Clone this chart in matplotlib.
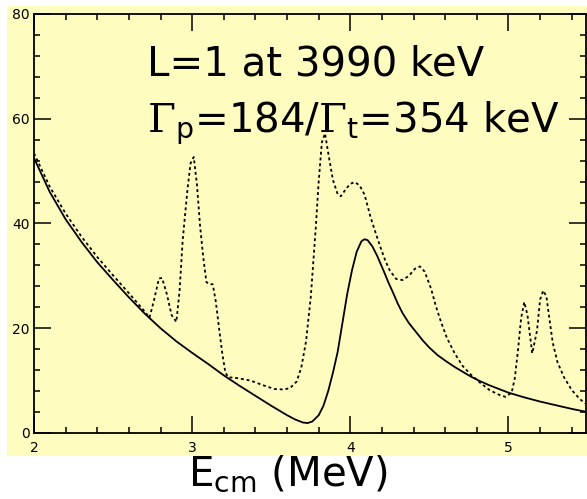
import matplotlib
matplotlib.use("Agg")
import matplotlib.pyplot as plt
from matplotlib.patches import Rectangle
from matplotlib.ticker import MultipleLocator

# calculated cross section, L=1 resonance only
solid_x = [2.0, 2.1, 2.2, 2.3, 2.4, 2.5, 2.6, 2.7, 2.8, 2.9, 3.0, 3.1, 3.2, 3.3, 3.4,
           3.5, 3.55, 3.6, 3.65, 3.7, 3.73, 3.76, 3.8, 3.83, 3.86, 3.89, 3.92, 3.95,
           3.98, 4.01, 4.04, 4.07, 4.09, 4.11, 4.14, 4.17, 4.21, 4.24, 4.27, 4.3, 4.33,
           4.37, 4.42, 4.46, 4.5, 4.55, 4.61, 4.66, 4.71, 4.76, 4.82, 4.88, 4.94, 5.0,
           5.1, 5.2, 5.3, 5.4, 5.5]
solid_y = [52.5, 46.0, 40.8, 36.5, 32.6, 29.2, 25.9, 22.8, 20.0, 17.5, 15.3, 13.2, 11.0,
           9.0, 7.1, 5.2, 4.3, 3.4, 2.6, 2.0, 1.9, 2.2, 3.4, 5.2, 8.0, 11.5, 15.5, 21.0,
           26.5, 31.0, 34.6, 36.6, 37.0, 36.8, 35.6, 33.8, 31.0, 28.8, 26.8, 24.7, 22.9,
           21.0, 19.1, 17.6, 16.3, 14.9, 13.6, 12.6, 11.7, 10.8, 9.9, 9.1, 8.4, 7.7,
           6.8, 6.0, 5.3, 4.6, 4.0]

# measured excitation function
dotted_x = [2.0, 2.1, 2.2, 2.3, 2.4, 2.5, 2.6, 2.7, 2.73, 2.76, 2.79, 2.81, 2.84, 2.87,
            2.9, 2.92, 2.94, 2.97, 2.99, 3.01, 3.03, 3.05, 3.07, 3.09, 3.11, 3.13, 3.15,
            3.17, 3.19, 3.21, 3.23, 3.26, 3.3, 3.37, 3.45, 3.52, 3.58, 3.62, 3.66, 3.69,
            3.72, 3.75, 3.78, 3.8, 3.82, 3.84, 3.86, 3.89, 3.92, 3.94, 3.97, 4.0, 4.03,
            4.06, 4.09, 4.13, 4.16, 4.19, 4.22, 4.25, 4.29, 4.33, 4.37, 4.41, 4.44, 4.47,
            4.51, 4.54, 4.57, 4.61, 4.66, 4.71, 4.76, 4.82, 4.88, 4.94, 4.98, 5.02, 5.04,
            5.06, 5.08, 5.1, 5.12, 5.15, 5.18, 5.2, 5.22, 5.24, 5.26, 5.28, 5.31, 5.35,
            5.4, 5.45, 5.5]
dotted_y = [53.4, 47.0, 41.9, 37.5, 33.6, 30.1, 26.7, 23.2, 22.0, 25.5, 29.5, 29.6, 26.5,
            22.5, 21.2, 27.0, 36.8, 46.4, 51.5, 52.7, 47.5, 39.5, 33.6, 28.8, 28.4, 28.4,
            25.0, 20.0, 15.3, 11.5, 10.6, 10.6, 10.4, 10.0, 9.1, 8.4, 8.3, 8.6, 9.8, 12.5,
            17.5, 26.0, 38.5, 48.0, 55.5, 57.2, 53.5, 48.3, 45.6, 45.2, 46.5, 47.6, 47.9,
            47.2, 45.5, 41.0, 38.2, 35.5, 33.0, 31.0, 29.4, 29.2, 30.0, 31.4, 31.8, 30.8,
            27.6, 24.3, 21.5, 18.2, 15.2, 12.8, 11.2, 9.6, 8.2, 7.3, 6.9, 7.7, 10.5, 15.8,
            22.0, 25.0, 22.5, 15.2, 19.5, 25.5, 27.2, 26.0, 21.5, 17.2, 13.5, 10.7, 8.2,
            6.5, 5.3]

xticks = [2, 3, 4, 5]
yticks = [0, 20, 40, 60, 80]

plt.rcParams['mathtext.fontset'] = 'custom'
plt.rcParams['mathtext.rm'] = 'DejaVu Serif'
plt.rcParams['mathtext.sf'] = 'DejaVu Sans'

W, H = 587, 499
fig = plt.figure(figsize=(W / 100, H / 100), dpi=100, facecolor='white')
yellow = '#fffcbf'
fig.patches.append(Rectangle((7 / W, 1 - 456 / H), (W - 7) / W, 450 / H,
                             transform=fig.transFigure, facecolor=yellow,
                             edgecolor='none', zorder=-5))

ax = fig.add_axes([34 / W, 1 - 433 / H, 552 / W, 419 / H])
ax.set_zorder(1)
ax.set_facecolor(yellow)
ax.plot(solid_x, solid_y, color='black', lw=1.3)
ax.plot(dotted_x, dotted_y, color='black', lw=1.3, linestyle=(0, (1.6, 1.6)))

ax.set_xlim(2, 5.49)
ax.set_ylim(0, 80)
ax.set_xticks(xticks)
ax.set_yticks(yticks)
ax.xaxis.set_minor_locator(MultipleLocator(0.2))
ax.yaxis.set_minor_locator(MultipleLocator(4))
ax.tick_params(which='both', direction='in', top=True, right=True, width=1.1,
               labelsize=10, colors='black')
ax.tick_params(which='major', length=12)
ax.tick_params(which='minor', length=4.5)
ax.tick_params(axis='x', pad=6)
ax.tick_params(axis='y', pad=3)
for s in ax.spines.values():
    s.set_linewidth(1.3)

fig.text(147 / W, 1 - 75 / H, 'L=1 at 3990 keV', fontsize=29, family='DejaVu Sans',
         ha='left', va='baseline', zorder=3)
fig.text(147 / W, 1 - 132 / H,
         r'$\Gamma_{\mathsf{p}}$=184/$\Gamma_{\mathsf{t}}$=354 keV',
         fontsize=29, family='DejaVu Sans', ha='left', va='baseline', zorder=3)
fig.text(288 / W, 1 - 485 / H, r'E$_{\mathsf{cm}}$ (MeV)', fontsize=29,
         family='DejaVu Sans', ha='center', va='baseline', zorder=0)

fig.savefig('out.png', dpi=100, facecolor='white')
